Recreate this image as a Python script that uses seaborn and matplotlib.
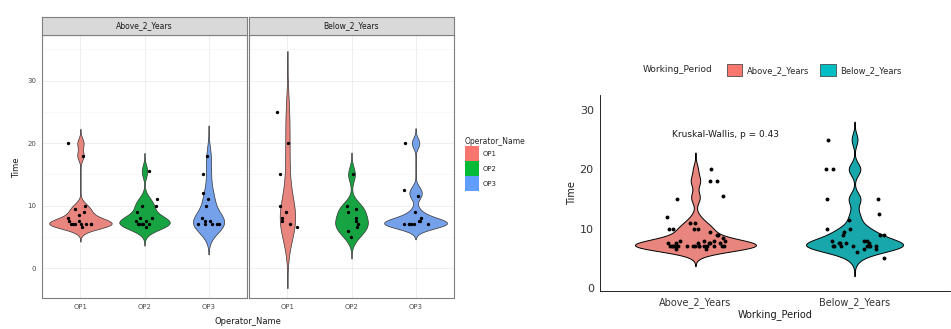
import numpy as np
import pandas as pd
import matplotlib
matplotlib.use("Agg")
import matplotlib.pyplot as plt
from matplotlib.patches import Patch
from matplotlib.offsetbox import HPacker
import seaborn as sns

# ---------------- data ----------------
operators = ["OP1", "OP2", "OP3"]
periods = ["Above_2_Years", "Below_2_Years"]

above_op1 = [6.5, 7, 7, 7, 7, 7, 7, 7, 7.5, 7.5, 8, 8.5, 9, 9.5, 10, 18, 20]
above_op2 = [6.5, 7, 7, 7, 7, 7, 7.5, 7.5, 8, 8, 9, 10, 10, 11, 15.5]
above_op3 = [7, 7, 7, 7, 7, 7.5, 7.5, 8, 10, 11, 12, 15, 18]
below_op1 = [6.5, 7, 7.5, 8, 9, 10, 15, 20, 25]
below_op2 = [5, 6, 6.5, 7, 7.5, 8, 9, 9.5, 10, 15]
below_op3 = [7, 7, 7, 7, 7, 7, 7.5, 7.5, 8, 9, 11.5, 12.5, 20]

y_ticks = [0, 10, 20, 30]
kw_label = "Kruskal-Wallis, p = 0.43"

op_colors = ["#F8766D", "#00BA38", "#619CFF"]
period_colors = ["#F8766D", "#00BFC4"]

groups = {
    ("Above_2_Years", "OP1"): above_op1,
    ("Above_2_Years", "OP2"): above_op2,
    ("Above_2_Years", "OP3"): above_op3,
    ("Below_2_Years", "OP1"): below_op1,
    ("Below_2_Years", "OP2"): below_op2,
    ("Below_2_Years", "OP3"): below_op3,
}
rows = []
for (per, op), vals in groups.items():
    for v in vals:
        rows.append({"Working_Period": per, "Operator_Name": op, "Time": v})
df = pd.DataFrame(rows)


def nrd0(kde):
    """R's default bandwidth (bw.nrd0) expressed as a scipy factor."""
    x = np.asarray(kde.dataset).ravel()
    n = x.size
    sd = np.std(x, ddof=1)
    q75, q25 = np.percentile(x, [75, 25])
    lo = min(sd, (q75 - q25) / 1.34)
    if lo == 0:
        lo = sd if sd > 0 else 1.0
    bw = 0.9 * lo * n ** -0.2
    return bw / sd


np.random.seed(3)
sns.set_style("white")
plt.rcParams["font.family"] = ["DejaVu Sans"]

W, H = 951, 329
fig = plt.figure(figsize=(W / 100, H / 100), dpi=100)


def rect(x0, y0, x1, y1):
    return [x0 / W, 1 - y1 / H, (x1 - x0) / W, (y1 - y0) / H]


# ---------------- left: faceted violins ----------------
panel_px = [(42, 247), (249, 454)]
for i, per in enumerate(periods):
    x0, x1 = panel_px[i]
    ax = fig.add_axes(rect(x0, 35, x1, 298))
    sub = df[df["Working_Period"] == per]
    sns.violinplot(data=sub, x="Operator_Name", y="Time", hue="Operator_Name",
                   order=operators, hue_order=operators, palette=op_colors,
                   bw_method=nrd0, cut=3, width=0.98, density_norm="area",
                   common_norm=True, inner=None, linewidth=0.5,
                   linecolor="#333333", legend=False, ax=ax)
    sns.stripplot(data=sub, x="Operator_Name", y="Time", order=operators,
                  color="black", size=2.4, jitter=0.2, ax=ax, zorder=3)
    ax.set_xlim(-0.6, 2.6)
    ax.set_ylim(-4.8, 37.3)
    ax.set_yticks(y_ticks)
    ax.set_yticks([5, 15, 25, 35], minor=True)
    ax.grid(True, which="major", color="#EBEBEB", lw=0.6)
    ax.grid(True, which="minor", color="#F4F4F4", lw=0.4)
    ax.set_axisbelow(True)
    for s in ax.spines.values():
        s.set_color("#7F7F7F")
        s.set_linewidth(0.8)
    ax.tick_params(axis="both", labelsize=5, colors="#4D4D4D", length=2,
                   width=0.5, pad=2, direction="out")
    ax.tick_params(axis="both", which="minor", length=0)
    ax.set_xlabel("")
    ax.set_ylabel("")
    if i == 1:
        ax.set_yticklabels([])
        ax.tick_params(axis="y", length=0)
    # strip
    sax = fig.add_axes(rect(x0, 17, x1, 35))
    sax.set_xticks([])
    sax.set_yticks([])
    sax.set_facecolor("#D9D9D9")
    for s in sax.spines.values():
        s.set_color("#7F7F7F")
        s.set_linewidth(0.8)
    sax.text(0.5, 0.5, per, ha="center", va="center", fontsize=5.5,
             color="#1A1A1A", transform=sax.transAxes)

fig.text(17 / W, 1 - 168 / H, "Time", rotation=90, ha="center", va="center",
         fontsize=6, color="#1A1A1A")
fig.text(248 / W, 1 - 322 / H, "Operator_Name", ha="center", va="center",
         fontsize=6, color="#1A1A1A")

handles = [Patch(facecolor=c, edgecolor="none", label=o)
           for o, c in zip(operators, op_colors)]
leg = fig.legend(handles=handles, title="Operator_Name", loc="upper left",
                 bbox_to_anchor=(460 / W, 1 - 132 / H), frameon=False,
                 fontsize=5, title_fontsize=5.5, handlelength=2.0,
                 handleheight=2.9, labelspacing=0.05, handletextpad=0.6,
                 borderpad=0.2)
leg._legend_box.align = "left"

# ---------------- right: combined violins ----------------
axr = fig.add_axes(rect(600, 95, 950, 291))
sns.violinplot(data=df, x="Working_Period", y="Time", hue="Working_Period",
               order=periods, hue_order=periods, palette=period_colors,
               bw_method=nrd0, cut=3, width=0.76, density_norm="area",
               common_norm=True, inner=None, linewidth=0.7, linecolor="black",
               legend=False, ax=axr)
sns.stripplot(data=df, x="Working_Period", y="Time", order=periods,
              color="black", size=2.8, jitter=0.2, ax=axr, zorder=3)
axr.set_xlim(-0.6, 1.6)
axr.set_ylim(-0.5, 32.5)
axr.set_yticks(y_ticks)
sns.despine(ax=axr)
for s in ["left", "bottom"]:
    axr.spines[s].set_color("black")
    axr.spines[s].set_linewidth(0.6)
axr.tick_params(axis="both", labelsize=7, colors="#333333", length=2.5,
                width=0.5, pad=2)
axr.tick_params(axis="y", labelsize=8)
axr.set_xlabel("Working_Period", fontsize=7, color="#1A1A1A", labelpad=1)
axr.set_ylabel("Time", fontsize=7, color="#1A1A1A", labelpad=2)
axr.text(-0.15, 25.8, kw_label, ha="left", va="center", fontsize=6.5,
         color="#1A1A1A")

handles_r = [Patch(facecolor=c, edgecolor="#333333", linewidth=0.5, label=p)
             for p, c in zip(periods, period_colors)]
legr = fig.legend(handles=handles_r, title="Working_Period", loc="center",
                  bbox_to_anchor=(772 / W, 1 - 70 / H), ncol=2, frameon=False,
                  fontsize=6, title_fontsize=6.5, handlelength=1.9,
                  handleheight=1.9, columnspacing=1.3, handletextpad=0.5,
                  borderpad=0.1)
title_box = legr._legend_title_box
handle_box = legr._legend_handle_box
legr._legend_box._children = [HPacker(children=[title_box, handle_box],
                                      align="center", pad=0, sep=10)]

fig.savefig("out.png", dpi=100)
